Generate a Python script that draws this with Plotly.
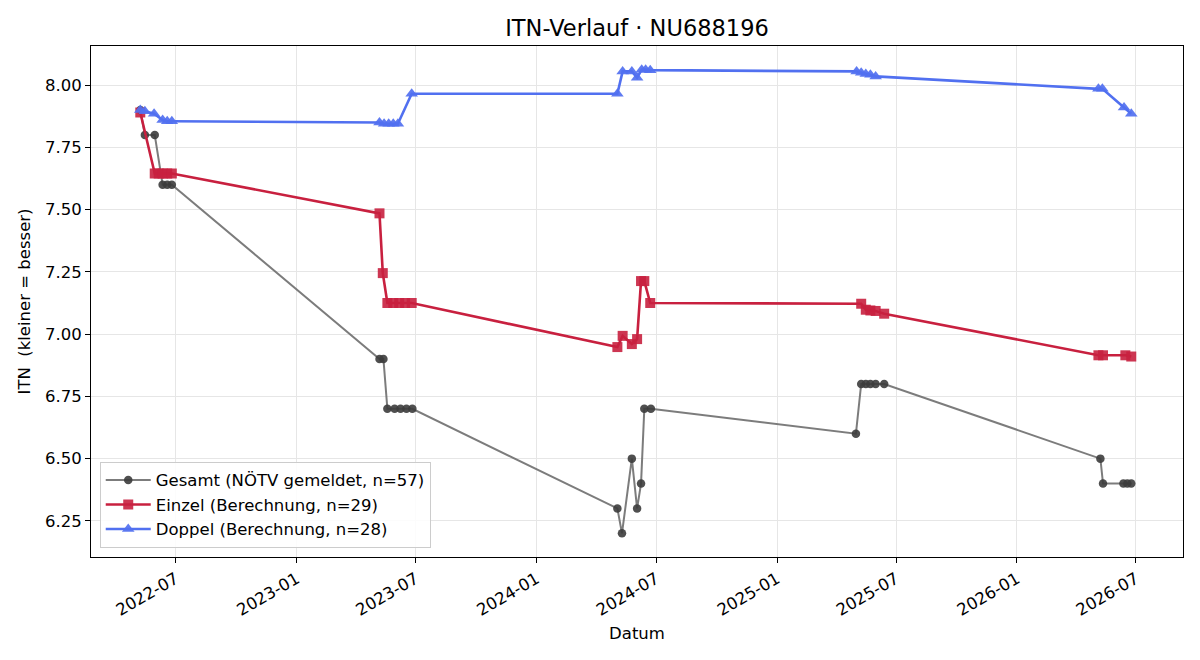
import plotly.graph_objects as go

# ---------------- data ----------------
gesamt_dates = [
    "2022-05-08", "2022-05-15", "2022-05-30", "2022-06-11", "2022-06-18", "2022-06-25",
    "2023-05-07", "2023-05-13", "2023-05-19", "2023-05-30", "2023-06-08", "2023-06-17", "2023-06-26",
    "2024-05-03", "2024-05-10", "2024-05-25", "2024-06-02", "2024-06-08", "2024-06-13", "2024-06-23",
    "2025-05-01", "2025-05-09", "2025-05-16", "2025-05-23", "2025-05-31", "2025-06-13",
    "2026-05-08", "2026-05-12", "2026-06-12", "2026-06-18", "2026-06-24",
]
gesamt_values = [
    7.90, 7.80, 7.80, 7.60, 7.60, 7.60,
    6.90, 6.90, 6.70, 6.70, 6.70, 6.70, 6.70,
    6.30, 6.20, 6.50, 6.30, 6.40, 6.70, 6.70,
    6.60, 6.80, 6.80, 6.80, 6.80, 6.80,
    6.50, 6.40, 6.40, 6.40, 6.40,
]

einzel_dates = [
    "2022-05-08", "2022-05-30", "2022-06-05", "2022-06-11", "2022-06-18", "2022-06-25",
    "2023-05-07", "2023-05-12", "2023-05-19", "2023-05-28", "2023-06-06", "2023-06-15", "2023-06-25",
    "2024-05-03", "2024-05-11", "2024-05-25", "2024-06-02", "2024-06-08", "2024-06-13", "2024-06-22",
    "2025-05-09", "2025-05-16", "2025-05-23", "2025-05-31", "2025-06-13",
    "2026-05-05", "2026-05-12", "2026-06-15", "2026-06-24",
]
einzel_values = [
    7.89, 7.645, 7.645, 7.645, 7.645, 7.645,
    7.485, 7.245, 7.125, 7.125, 7.125, 7.125, 7.125,
    6.948, 6.993, 6.96, 6.98, 7.213, 7.213, 7.125,
    7.122, 7.098, 7.095, 7.093, 7.082,
    6.915, 6.915, 6.915, 6.91,
]

doppel_dates = [
    "2022-05-08", "2022-05-15", "2022-05-29", "2022-06-11", "2022-06-18", "2022-06-25",
    "2023-05-07", "2023-05-14", "2023-05-21", "2023-05-28", "2023-06-04", "2023-06-25",
    "2024-05-03", "2024-05-11", "2024-05-25", "2024-06-02", "2024-06-09", "2024-06-15", "2024-06-22",
    "2025-05-02", "2025-05-09", "2025-05-16", "2025-05-23", "2025-05-31",
    "2026-05-05", "2026-05-11", "2026-06-13", "2026-06-24",
]
doppel_values = [
    7.90, 7.895, 7.885, 7.86, 7.855, 7.855,
    7.85, 7.845, 7.845, 7.845, 7.845, 7.965,
    7.965, 8.055, 8.055, 8.03, 8.062, 8.062, 8.06,
    8.055, 8.05, 8.045, 8.042, 8.035,
    7.985, 7.985, 7.91, 7.885,
]

labels = [
    "Gesamt (NÖTV gemeldet, n=57)",
    "Einzel (Berechnung, n=29)",
    "Doppel (Berechnung, n=28)",
]
title_text = "ITN-Verlauf · NU688196"
ytick_vals = [6.25, 6.50, 6.75, 7.00, 7.25, 7.50, 7.75, 8.00]
xtick_vals = ["2022-07-01", "2023-01-01", "2023-07-01", "2024-01-01",
              "2024-07-01", "2025-01-01", "2025-07-01", "2026-01-01", "2026-07-01"]
xtick_text = ["2022-07", "2023-01", "2023-07", "2024-01",
              "2024-07", "2025-01", "2025-07", "2026-01", "2026-07"]

FONT = "DejaVu Sans"
FS = 16.5

fig = go.Figure()
fig.add_trace(go.Scatter(
    x=gesamt_dates, y=gesamt_values, mode="lines+markers", name=labels[0],
    line=dict(color="rgba(110,110,110,0.9)", width=2),
    marker=dict(symbol="circle", size=8.5, color="rgba(60,60,60,0.9)", line=dict(width=0)),
))
fig.add_trace(go.Scatter(
    x=einzel_dates, y=einzel_values, mode="lines+markers", name=labels[1],
    line=dict(color="#c8203f", width=2.6),
    marker=dict(symbol="square", size=10, color="rgba(200,32,63,0.9)", line=dict(width=0)),
))
fig.add_trace(go.Scatter(
    x=doppel_dates, y=doppel_values, mode="lines+markers", name=labels[2],
    line=dict(color="#5170f0", width=2.6),
    marker=dict(symbol="triangle-up", size=11, color="rgba(81,112,240,0.92)", line=dict(width=0)),
))

fig.update_layout(
    width=1200, height=660,
    margin=dict(l=91, r=17, t=46, b=103),
    paper_bgcolor="white", plot_bgcolor="white",
    font=dict(family=FONT, size=FS, color="black"),
    title=dict(text=title_text, xref="paper", x=0.5, xanchor="center",
               yref="container", y=0.957, yanchor="middle",
               font=dict(family=FONT, size=22.5, color="black")),
    showlegend=True,
    legend=dict(x=0.008, y=0.018, xanchor="left", yanchor="bottom",
                bgcolor="rgba(255,255,255,0.85)", bordercolor="#cccccc", borderwidth=1,
                font=dict(family=FONT, size=FS), tracegroupgap=0,
                itemwidth=45),
)
fig.update_xaxes(
    range=["2022-02-22", "2026-09-10 17:00"],
    tickvals=xtick_vals, ticktext=xtick_text, tickangle=-30,
    ticks="outside", ticklen=5, tickcolor="black", tickwidth=1,
    showline=True, mirror=True, linecolor="black", linewidth=1,
    showgrid=True, gridcolor="#e6e6e6", gridwidth=1, zeroline=False,
    title=dict(text="Datum", font=dict(family=FONT, size=FS), standoff=8),
    tickfont=dict(family=FONT, size=FS),
)
fig.update_yaxes(
    range=[6.105, 8.157],
    tickvals=ytick_vals, tickformat=".2f",
    ticks="outside", ticklen=5, tickcolor="black", tickwidth=1,
    showline=True, mirror=True, linecolor="black", linewidth=1,
    showgrid=True, gridcolor="#e6e6e6", gridwidth=1, zeroline=False,
    title=dict(text="ITN\u00a0 (kleiner = besser)", font=dict(family=FONT, size=FS), standoff=10),
    tickfont=dict(family=FONT, size=FS),
)

fig.write_html("out.html")
